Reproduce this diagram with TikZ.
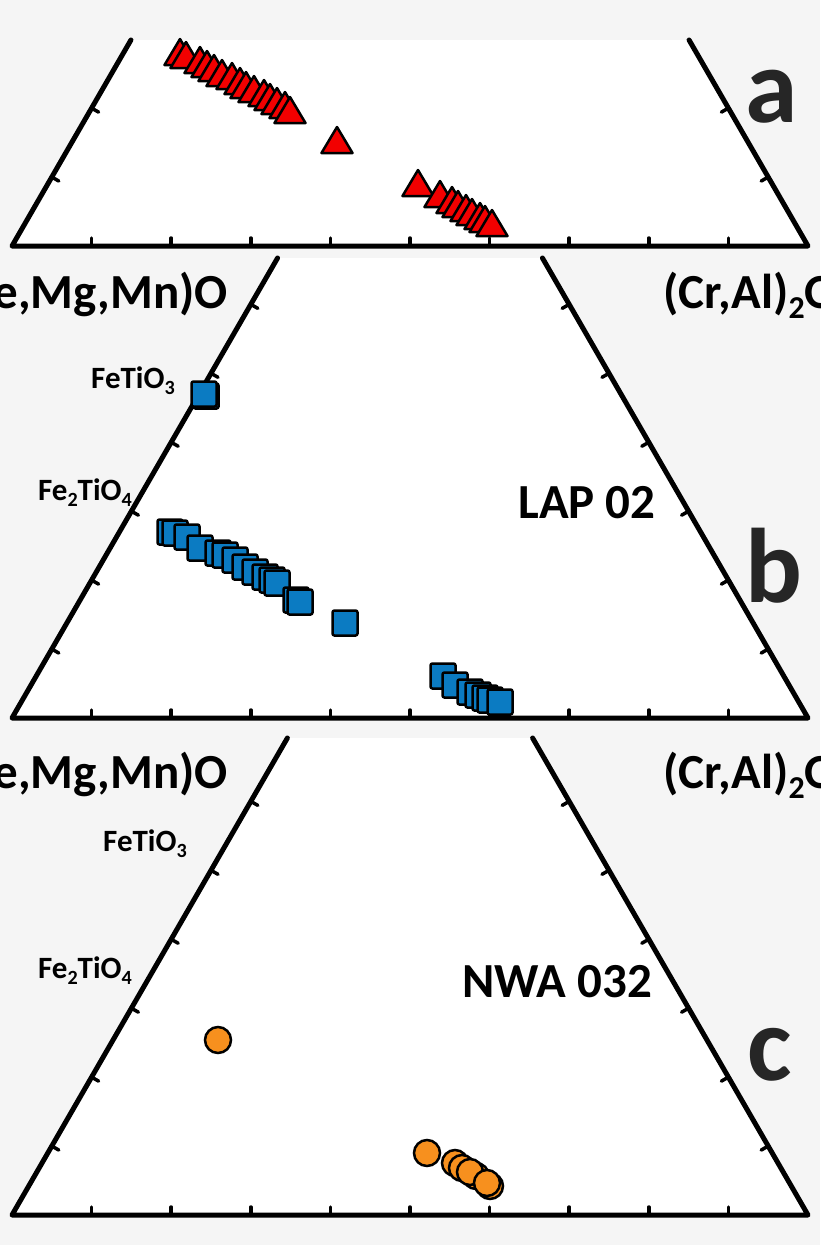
\documentclass[tikz,border=0pt]{standalone}
\usepackage{fontspec}
\setmainfont{Carlito}
\definecolor{bgray}{HTML}{F5F5F5}
\definecolor{sqblue}{HTML}{0B7BC2}
\definecolor{dotor}{HTML}{F7901E}
\definecolor{trired}{HTML}{F20000}
\newcommand\sbs[1]{\raisebox{-0.45ex}{\scalebox{0.65}{#1}}}
\newcommand\trimark[2]{\draw[tristyle] (#1,{#2-16}) -- ({#1+15.5},{#2+10}) -- ({#1-15.5},{#2+10}) -- cycle;}
\newcommand\sqmark[2]{\draw[sqstyle] ({#1-12.5},{#2-12.5}) rectangle ({#1+12.5},{#2+12.5});}
\newcommand\circmark[2]{\draw[dotstyle] (#1,#2) circle (13);}
\begin{document}
\begin{tikzpicture}[x=1pt,y=-1pt,
  axis/.style={line width=5pt,line join=round,line cap=round},
  tickstyle/.style={line width=3.5pt,line cap=round},
  tristyle/.style={fill=trired,draw=black,line width=2.5pt,line join=round},
  sqstyle/.style={fill=sqblue,draw=black,line width=2.5pt,rounded corners=2pt},
  dotstyle/.style={fill=dotor,draw=black,line width=2.5pt},
  lbl/.style={font=\bfseries\fontsize{49}{49}\selectfont,inner sep=0pt},
  mlbl/.style={font=\bfseries\fontsize{31}{31}\selectfont,inner sep=0pt},
  samplelbl/.style={font=\bfseries\fontsize{49}{49}\selectfont,inner sep=0pt},
  panellet/.style={font=\bfseries\fontsize{106}{106}\selectfont,inner sep=0pt,text=black!85}]
\fill[bgray] (0,0) rectangle (820,1245);
\useasboundingbox (0,0) rectangle (820,1245);
\foreach \B/\T in {246/40,718/258,1215/738}{
  \pgfmathsetmacro\h{(\B-\T)/1.7320508}
  \fill[white] (12,\B) -- (808,\B) -- ({808-\h},\T) -- ({12+\h},\T) -- cycle;
  \foreach \k in {1,...,9}{
    \draw[tickstyle] ({12+79.6*\k},\B) -- ++(0,-8);
    \pgfmathsetmacro\yy{\B-68.94*\k}
    \ifdim\yy pt>\T pt
      \draw[tickstyle] ({12+39.8*\k},\yy) -- ++(7,4);
      \draw[tickstyle] ({808-39.8*\k},\yy) -- ++(-7,4);
    \fi
  }
  \draw[axis] ({12+\h},\T) -- (12,\B) -- (808,\B) -- ({808-\h},\T);
}
% panel a
\foreach \x/\y in {180/55,186/58,200/63,207/67,214/71,222/76,232/79,240/84,246/88,254/92,264/96,270/100,277/104,285/108,290/113,337/143,418/186,440/197,452/203,458/207,466/211,472/215,480/219,485/222,492/226}{\trimark{\x}{\y}}
% panel b
\foreach \x/\y in {206/396,204/394,170/532,175/533,187/537,200/548,218/553,225/555,235/560,245/567,255/572,265/577,272/580,277/583,296/600,300/602,345/623,443/676,455/685,470/692,478/695,485/698,490/700,500/702}{\sqmark{\x}{\y}}
% panel c
\foreach \x/\y in {218/1040,427/1153,455/1163,462/1168,476/1176,470/1172,490/1186,487/1183}{\circmark{\x}{\y}}
% labels
\node[lbl,anchor=base east] (l1) at (228,308) {(Fe,Mg,Mn)O};
\node[lbl,anchor=base west] (r1) at (663,308) {(Cr,Al)\sbs{2}O\sbs{3}};
\node[lbl,anchor=base east] (l2) at (228,788) {(Fe,Mg,Mn)O};
\node[lbl,anchor=base west] (r2) at (663,788) {(Cr,Al)\sbs{2}O\sbs{3}};
\node[mlbl,anchor=base] (f1) at (133,388) {FeTiO\sbs{3}};
\node[mlbl,anchor=base] (f2) at (85,500) {Fe\sbs{2}TiO\sbs{4}};
\node[mlbl,anchor=base] (f3) at (145,851) {FeTiO\sbs{3}};
\node[mlbl,anchor=base] (f4) at (85,978) {Fe\sbs{2}TiO\sbs{4}};
\node[samplelbl] (n1) at (587,503) {LAP 02};
\node[samplelbl] (n2) at (557,982) {NWA 032};
\node[panellet,anchor=base] (pa) at (772,122) {a};
\node[panellet,anchor=base] (pb) at (774,602) {b};
\node[panellet,anchor=base] (pc) at (770,1080) {c};
\end{tikzpicture}
\end{document}
